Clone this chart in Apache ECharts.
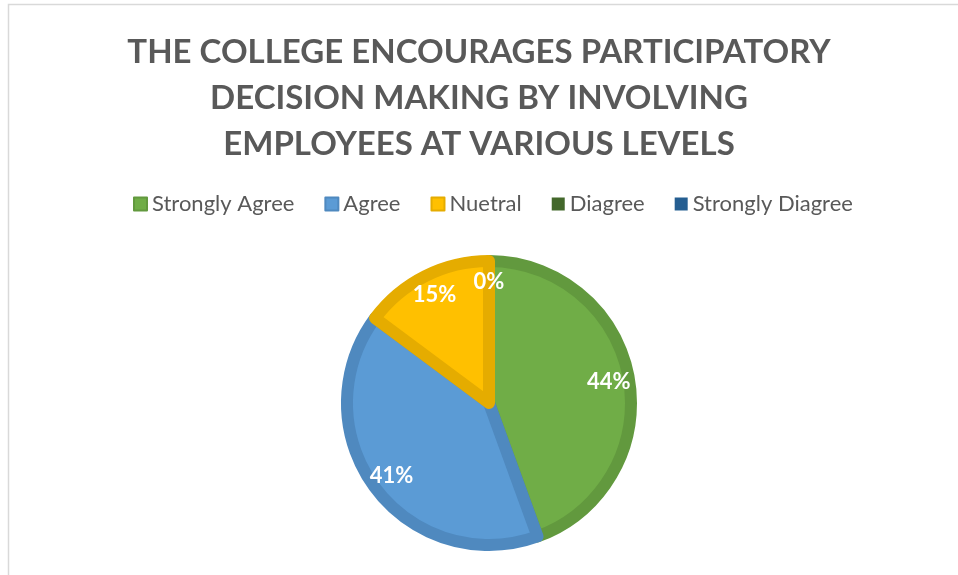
<!DOCTYPE html>
<html>
<head>
<meta charset="utf-8">
<script src="https://cdn.jsdelivr.net/npm/echarts@6/dist/echarts.min.js"></script>
<style>
html,body{margin:0;padding:0;background:#fff;}
#chart{width:958px;height:575px;}
</style>
</head>
<body>
<div id="chart"></div>
<script>
var categories = ['Strongly Agree', 'Agree', 'Nuetral', 'Diagree', 'Strongly Diagree'];
var values = [12, 11, 4, 0, 0];
var fillColors = ['#70AD47', '#5B9BD5', '#FFC000', '#43682B', '#255E91'];
var borderColors = ['#62993E', '#4F89BF', '#E5AC00', '#3A5A25', '#20517E'];
var titleText = 'THE COLLEGE ENCOURAGES PARTICIPATORY\nDECISION MAKING BY INVOLVING\nEMPLOYEES AT VARIOUS LEVELS';

var chart = echarts.init(document.getElementById('chart'), null, {renderer: 'canvas'});

var mainData = categories.map(function (name, i) {
  return {
    name: name,
    value: values[i],
    itemStyle: {
      color: fillColors[i],
      borderColor: borderColors[i],
      borderWidth: values[i] > 0 ? 12 : 0
    }
  };
});
var labelData = values.map(function (v) { return {value: v}; });

chart.setOption({
  animation: false,
  backgroundColor: '#ffffff',
  graphic: [{
    type: 'rect',
    shape: {x: 8.5, y: 4.5, width: 1200, height: 800},
    style: {fill: 'none', stroke: '#d9d9d9', lineWidth: 1.5},
    silent: true
  }],
  title: {
    text: titleText,
    left: 'center',
    top: 24,
    textStyle: {
      fontFamily: 'Lato',
      fontWeight: 'bold',
      fontSize: 33,
      lineHeight: 46,
      color: '#595959'
    }
  },
  legend: {
    data: categories,
    top: 188,
    left: 128,
    itemWidth: 13,
    itemHeight: 13,
    itemGap: 30,
    icon: 'rect',
    textStyle: {fontFamily: 'Lato', fontSize: 22, color: '#595959'}
  },
  series: [{
    type: 'pie',
    center: [489, 403],
    radius: [0, 142],
    startAngle: 90,
    clockwise: true,
    data: mainData,
    label: {show: false},
    labelLine: {show: false},
    silent: true,
    itemStyle: {borderJoin: 'round'}
  }, {
    type: 'pie',
    center: [489, 403],
    radius: [95, 142],
    startAngle: 90,
    clockwise: true,
    percentPrecision: 0,
    data: labelData,
    silent: true,
    itemStyle: {color: 'rgba(0,0,0,0)', borderWidth: 0},
    label: {
      show: true,
      position: 'inside',
      formatter: '{d}%',
      fontFamily: 'Lato',
      fontWeight: 'bold',
      fontSize: 22,
      color: '#ffffff'
    },
    labelLine: {show: false}
  }]
});
</script>
</body>
</html>
